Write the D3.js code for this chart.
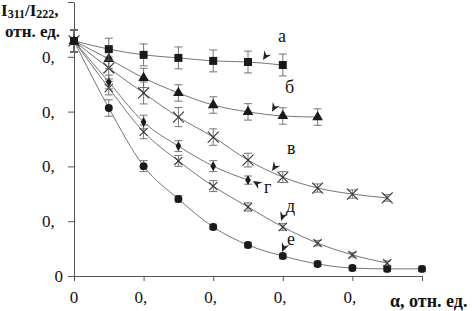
<!DOCTYPE html>
<html>
<head>
<meta charset="utf-8">
<script src="https://cdn.jsdelivr.net/npm/d3@7"></script>
<style>
  body { margin: 0; background: #fff; }
  text { font-family: "Liberation Serif", "Times New Roman", serif; fill: #111; }
</style>
</head>
<body>
<div id="chart"></div>
<script>
// values (relative units)
const xTicks = [0, 0.2, 0.4, 0.6, 0.8, 1.0];
const yTicks = [0, 0.2, 0.4, 0.6, 0.8, 1.0];

const seriesNames = ["е", "д", "г", "в", "б", "а"];

const xA = [0, 0.1, 0.2, 0.3, 0.4, 0.5, 0.6];
const yA = [0.858, 0.828, 0.807, 0.796, 0.785, 0.781, 0.770];
const eA = [0.04, 0.04, 0.04, 0.04, 0.04, 0.04, 0.04];

const xB = [0, 0.1, 0.2, 0.3, 0.4, 0.5, 0.6, 0.7];
const yB = [0.858, 0.792, 0.723, 0.668, 0.624, 0.599, 0.584, 0.580];
const eB = [0.04, 0.035, 0.035, 0.03, 0.03, 0.03, 0.03, 0.03];

const xV = [0, 0.1, 0.2, 0.3, 0.4, 0.5, 0.6, 0.7, 0.8, 0.9];
const yV = [0.858, 0.759, 0.668, 0.580, 0.507, 0.423, 0.361, 0.321, 0.299, 0.285];
const eV = [0.04, 0.04, 0.04, 0.035, 0.03, 0.025, 0.02, 0.015, 0.015, 0.012];

const xG = [0, 0.1, 0.2, 0.3, 0.4, 0.5];
const yG = [0.858, 0.708, 0.562, 0.474, 0.401, 0.350];
const eG = [0.04, 0.025, 0.025, 0.02, 0.02, 0.015];

const xD = [0, 0.1, 0.2, 0.3, 0.4, 0.5, 0.6, 0.7, 0.8, 0.9];
const yD = [0.858, 0.686, 0.526, 0.420, 0.328, 0.252, 0.179, 0.120, 0.077, 0.047];
const eD = [0.04, 0.025, 0.025, 0.02, 0.02, 0.015, 0.012, 0.01, 0.008, 0.008];

const xE = [0, 0.1, 0.2, 0.3, 0.4, 0.5, 0.6, 0.7, 0.8, 0.9, 1.0];
const yE = [0.858, 0.613, 0.401, 0.281, 0.179, 0.113, 0.073, 0.044, 0.029, 0.026, 0.026];
const eE = [0.04, 0.03, 0.02, 0.012, 0.01, 0.01, 0.01, 0.01, 0.01, 0.01, 0.01];

// label + arrow tip positions, in data units
const labelX = [0.612, 0.609, 0.546, 0.612, 0.606, 0.586];
const labelY = [0.113, 0.234, 0.303, 0.445, 0.668, 0.854];
const arrowX = [0.598, 0.595, 0.514, 0.569, 0.569, 0.543];
const arrowY = [0.088, 0.201, 0.347, 0.383, 0.599, 0.788];

const width = 472, height = 311;

const svg = d3.select("#chart")
    .append("svg")
    .attr("width", width)
    .attr("height", height);

const x = d3.scaleLinear().domain([0, 1]).range([74, 422]);
const y = d3.scaleLinear().domain([0, 1]).range([276, 2]);

// axes
svg.append("g")
    .attr("transform", `translate(0,${y(0)})`)
    .call(d3.axisBottom(x).tickValues(xTicks).tickSize(5).tickSizeOuter(0).tickFormat(""));
svg.append("g")
    .attr("transform", `translate(${x(0)},0)`)
    .call(d3.axisLeft(y).tickValues(yTicks).tickSize(6).tickSizeOuter(0).tickFormat(""));
svg.selectAll(".domain, .tick line").attr("stroke", "#555").attr("stroke-width", 1);

// tick labels (the decimals are cut off in the original: "0,")
svg.append("g").selectAll("text")
    .data(xTicks.filter(d => d < 1))
    .join("text")
    .attr("x", d => d === 0 ? x(d) : x(d) - 9)
    .attr("y", 303)
    .attr("text-anchor", d => d === 0 ? "middle" : "start")
    .style("font-size", "17px")
    .text(d => d === 0 ? "0" : "0,");

svg.append("g").selectAll("text")
    .data(yTicks.filter(d => d < 1))
    .join("text")
    .attr("x", d => d === 0 ? 63 : 42)
    .attr("y", d => y(d) + 6)
    .attr("text-anchor", d => d === 0 ? "end" : "start")
    .style("font-size", "17px")
    .text(d => d === 0 ? "0" : "0,");

// axis titles
const yt = svg.append("text").attr("x", 1).attr("y", 16)
    .style("font-size", "17px").style("font-weight", "bold");
yt.append("tspan").text("I");
yt.append("tspan").text("311").attr("dy", 2).style("font-size", "12px");
yt.append("tspan").text("/I").attr("dy", -2);
yt.append("tspan").text("222").attr("dy", 2).style("font-size", "12px");
yt.append("tspan").text(",").attr("dy", -2);
svg.append("text").attr("x", 5).attr("y", 37)
    .style("font-size", "17px").style("font-weight", "bold")
    .text("отн. ед.");
svg.append("text").attr("x", 390).attr("y", 307)
    .style("font-size", "18px").style("font-weight", "bold")
    .text("α, отн. ед.");

// series
const series = [
    { xs: xE, ys: yE, es: eE, sym: d3.symbolCircle, size: 50, stroke: false },
    { xs: xD, ys: yD, es: eD, sym: d3.symbolX, size: 45, stroke: true },
    { xs: xG, ys: yG, es: eG, sym: d3.symbolDiamond, size: 28, stroke: false },
    { xs: xV, ys: yV, es: eV, sym: d3.symbolX, size: 80, stroke: true },
    { xs: xB, ys: yB, es: eB, sym: d3.symbolTriangle, size: 50, stroke: false },
    { xs: xA, ys: yA, es: eA, sym: d3.symbolSquare, size: 64, stroke: false },
];

const line = d3.line()
    .x(d => x(d[0]))
    .y(d => y(d[1]))
    .curve(d3.curveMonotoneX);

series.forEach(s => {
    const pts = s.xs.map((v, i) => [v, s.ys[i], s.es[i]]);
    const g = svg.append("g");

    g.append("path")
        .datum(pts)
        .attr("d", line)
        .attr("fill", "none")
        .attr("stroke", "#666")
        .attr("stroke-width", 0.9);

    // error bars
    const eb = g.selectAll(".eb").data(pts).join("g");
    eb.append("line")
        .attr("x1", d => x(d[0])).attr("x2", d => x(d[0]))
        .attr("y1", d => y(d[1] + d[2])).attr("y2", d => y(d[1] - d[2]));
    eb.append("line")
        .attr("x1", d => x(d[0]) - 4).attr("x2", d => x(d[0]) + 4)
        .attr("y1", d => y(d[1] + d[2])).attr("y2", d => y(d[1] + d[2]));
    eb.append("line")
        .attr("x1", d => x(d[0]) - 4).attr("x2", d => x(d[0]) + 4)
        .attr("y1", d => y(d[1] - d[2])).attr("y2", d => y(d[1] - d[2]));
    eb.selectAll("line").attr("stroke", "#666").attr("stroke-width", 0.9);

    // markers
    g.selectAll(".m").data(pts).join("path")
        .attr("transform", d => `translate(${x(d[0])},${y(d[1])})`)
        .attr("d", d3.symbol().type(s.sym).size(s.size))
        .attr("fill", s.stroke ? "none" : "#1a1a1a")
        .attr("stroke", s.stroke ? "#333" : "none")
        .attr("stroke-width", 1.1);
});

// curve labels with small arrowheads
seriesNames.forEach((name, i) => {
    svg.append("text")
        .attr("x", x(labelX[i]))
        .attr("y", y(labelY[i]))
        .style("font-size", "18px")
        .text(name);

    const tx = x(arrowX[i]), ty = y(arrowY[i]);
    // arrow tail direction: towards the label
    const ang = Math.atan2(y(labelY[i]) - 5 - ty, x(labelX[i]) - tx) * 180 / Math.PI;
    svg.append("path")
        .attr("transform", `translate(${tx},${ty}) rotate(${ang})`)
        .attr("d", "M0,0 L9,-4 L6,0 L9,4 Z")
        .attr("fill", "#222");
});
</script>
</body>
</html>
